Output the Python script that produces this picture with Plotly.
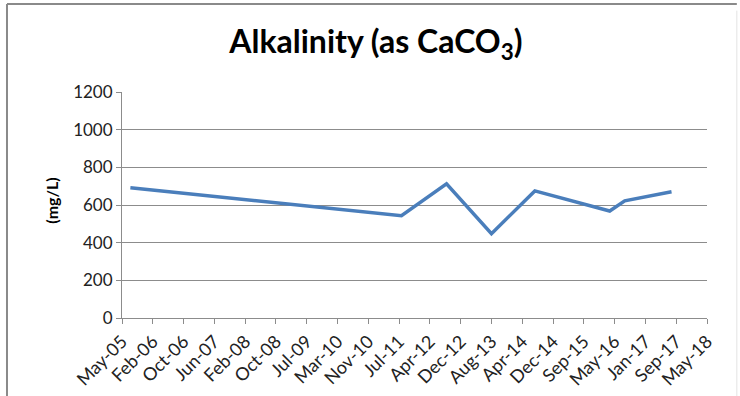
import datetime as dt
import plotly.graph_objects as go

# Sample dates and alkalinity values (mg/L as CaCO3)
sample_dates = ["2005-08-05", "2011-08-15", "2012-08-15", "2013-08-15",
                "2014-08-02", "2016-04-01", "2016-08-01", "2017-08-16"]
alkalinity = [692, 543, 712, 448, 675, 568, 622, 670]

# Date axis: tick every 250 days starting at the axis minimum
axis_start = dt.date(2005, 5, 29)
tick_step_days = 250
tick_labels = ["May-05", "Feb-06", "Oct-06", "Jun-07", "Feb-08", "Oct-08", "Jul-09",
               "Mar-10", "Nov-10", "Jul-11", "Apr-12", "Dec-12", "Aug-13", "Apr-14",
               "Dec-14", "Sep-15", "May-16", "Jan-17", "Sep-17", "May-18"]
tick_dates = [axis_start + dt.timedelta(days=tick_step_days * i) for i in range(len(tick_labels))]

y_ticks = [0, 200, 400, 600, 800, 1000, 1200]

FONT = "Lato, 'Open Sans', sans-serif"
GRID = "#8c8c8c"

fig = go.Figure()
fig.add_trace(go.Scatter(
    x=sample_dates, y=alkalinity, mode="lines",
    line=dict(color="#4a7ebb", width=3.5),
    showlegend=False, hoverinfo="x+y",
))

fig.update_layout(
    width=740, height=396,
    margin=dict(l=122, r=33, t=92, b=78),
    paper_bgcolor="white", plot_bgcolor="white",
    title=dict(text="<b>Alkalinity (as CaCO<sub>3</sub>)</b>",
               x=0.508, xanchor="center", y=0.895, yanchor="middle",
               font=dict(family=FONT, size=32, color="#000000")),
    font=dict(family=FONT, color="#222222"),
    xaxis=dict(
        type="date", automargin=False,
        range=[tick_dates[0], tick_dates[-1]],
        tickmode="array", tickvals=tick_dates, ticktext=tick_labels,
        tickangle=-45, tickfont=dict(size=18, color="#222222"),
        showgrid=False, zeroline=False,
        showline=True, linecolor=GRID, linewidth=1,
        ticks="outside", ticklen=5, tickcolor=GRID,
    ),
    yaxis=dict(
        automargin=False,
        range=[0, 1200], tickmode="array", tickvals=y_ticks,
        tickfont=dict(size=17, color="#222222"),
        showgrid=True, gridcolor=GRID, gridwidth=1,
        zeroline=False, showline=True, linecolor=GRID, linewidth=1,
        ticks="outside", ticklen=5, tickcolor=GRID,
    ),
    annotations=[
        dict(text="<b>(mg/L)</b>", xref="paper", yref="paper", x=-0.121, y=0.52,
             xanchor="center", yanchor="middle", textangle=-90, showarrow=False,
             font=dict(family=FONT, size=16, color="#000000")),
    ],
    shapes=[
        # outer chart frame
        dict(type="line", xref="paper", yref="paper", x0=-0.1966, x1=1.051, y0=1.389, y1=1.389,
             line=dict(color="#8a8a8a", width=2)),
        dict(type="line", xref="paper", yref="paper", x0=-0.1966, x1=-0.1966, y0=1.389, y1=-0.36,
             line=dict(color="#8a8a8a", width=2)),
        dict(type="line", xref="paper", yref="paper", x0=1.051, x1=1.051, y0=1.36, y1=-0.36,
             line=dict(color="#e3e3e3", width=1)),
    ],
)

fig.write_html("out.html")
